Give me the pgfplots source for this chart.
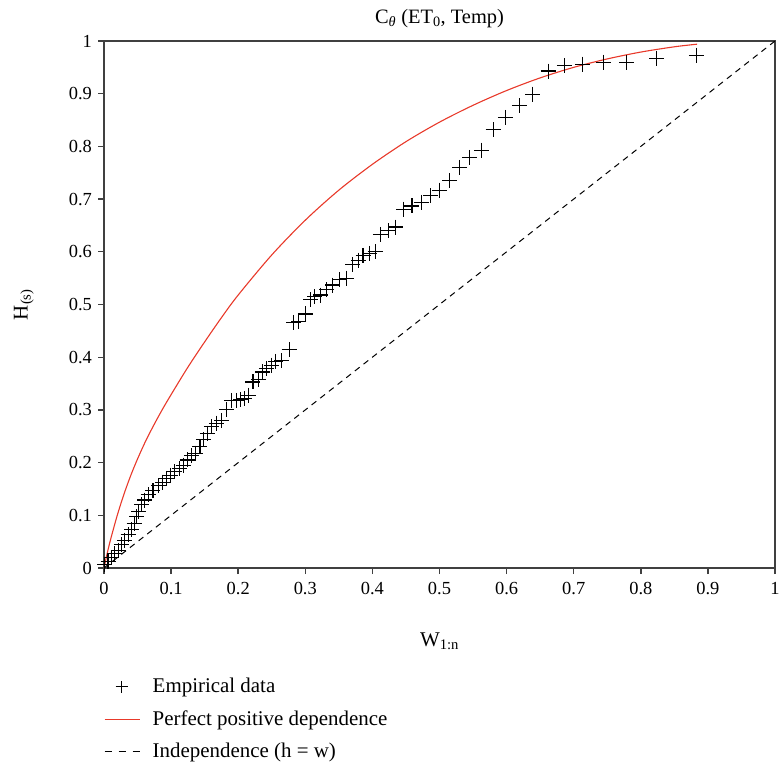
\documentclass[border=0pt]{standalone}
\usepackage{fontspec}
\setmainfont{Liberation Serif}
\usepackage{pgfplots}
\pgfplotsset{compat=1.18}
\definecolor{axgray}{HTML}{404040}
\definecolor{myred}{HTML}{E8392A}
\begin{document}
\fontsize{18}{22}\selectfont
\begin{tikzpicture}
\begin{axis}[
  anchor=origin, at={(0,0)},
  width=671bp, height=527bp, scale only axis,
  xmin=0, xmax=1, ymin=0, ymax=1,
  axis line style={axgray, line width=1.4bp},
  every tick/.style={axgray, line width=1.4bp},
  tick align=outside, major tick length=6bp,
  xtick pos=bottom, ytick pos=left,
  xtick={0,0.1,...,1}, ytick={0,0.1,...,1},
  xticklabels={0,0.1,0.2,0.3,0.4,0.5,0.6,0.7,0.8,0.9,1},
  yticklabels={0,0.1,0.2,0.3,0.4,0.5,0.6,0.7,0.8,0.9,1},
  ticklabel style={font=\fontsize{18.5}{22}\selectfont},
  xticklabel style={yshift=-2bp},
  title={C\textsubscript{\itshape θ} (ET\textsubscript{0}, Temp)},
  title style={font=\fontsize{20.5}{24}\selectfont, at={(0.5,1)}, anchor=south, yshift=1bp},
  xlabel={W\textsubscript{1:n}},
  xlabel style={font=\fontsize{21}{24}\selectfont, at={(0.5,0)}, anchor=north, yshift=-59bp},
  ylabel={H\textsubscript{(s)}},
  ylabel style={font=\fontsize{21}{24}\selectfont, at={(0,0.5)}, anchor=south, yshift=64bp},
  legend style={draw=none, fill=none, at={(0.0,-0.205)}, anchor=north west,
    font=\fontsize{21}{24}\selectfont, row sep=11bp, legend cell align=left,
    inner sep=0pt},
]
\addplot[only marks, mark=+, mark size=7.5bp, line width=1.1bp, black,
  legend image code/.code={\draw[mark=+, mark size=6bp, line width=1bp, black] plot coordinates {(17bp,0bp)}; \path[draw=none] (0bp,0bp) -- (46bp,0bp);}]
coordinates {
(0.001,0.006)(0.006,0.012)(0.011,0.020)(0.016,0.027)(0.021,0.034)(0.026,0.044)
(0.031,0.053)(0.036,0.063)(0.041,0.073)(0.045,0.085)(0.049,0.097)(0.052,0.107)
(0.056,0.120)(0.061,0.129)(0.066,0.139)(0.073,0.147)(0.081,0.156)(0.087,0.163)
(0.093,0.170)(0.099,0.176)(0.105,0.183)(0.112,0.189)(0.118,0.195)(0.124,0.205)
(0.131,0.213)(0.136,0.218)(0.143,0.230)(0.148,0.244)(0.154,0.256)(0.160,0.268)
(0.168,0.275)(0.175,0.280)(0.183,0.301)(0.190,0.318)(0.198,0.318)(0.204,0.320)
(0.210,0.322)(0.216,0.328)(0.222,0.353)(0.230,0.358)(0.236,0.372)(0.242,0.379)
(0.250,0.385)(0.256,0.392)(0.265,0.393)(0.276,0.414)(0.283,0.466)(0.290,0.468)
(0.300,0.482)(0.308,0.509)(0.314,0.515)(0.323,0.518)(0.332,0.528)(0.341,0.537)
(0.351,0.547)(0.362,0.550)(0.371,0.576)(0.379,0.584)(0.386,0.593)(0.396,0.597)
(0.404,0.600)(0.412,0.633)(0.424,0.640)(0.435,0.647)(0.447,0.681)(0.459,0.687)
(0.473,0.694)(0.487,0.706)(0.500,0.717)(0.515,0.735)(0.530,0.760)(0.545,0.779)
(0.563,0.793)(0.580,0.832)(0.598,0.855)(0.619,0.877)(0.639,0.899)(0.662,0.943)
(0.686,0.953)(0.713,0.956)(0.744,0.960)(0.779,0.960)(0.824,0.967)(0.883,0.973)
};
\addlegendentry{Empirical data}
\addplot[myred, line width=1.1bp, smooth,
  legend image code/.code={\draw[myred, line width=1.1bp] (0bp,0bp) -- (35bp,0bp); \path[draw=none] (0bp,0bp) -- (46bp,0bp);}]
coordinates {
(0,0)(0.005,0.029)(0.01,0.055)(0.02,0.101)(0.03,0.141)(0.04,0.176)(0.05,0.207)
(0.0625,0.242)(0.075,0.273)(0.0875,0.302)(0.1,0.329)(0.125,0.381)(0.15,0.429)
(0.175,0.475)(0.2,0.518)(0.25,0.594)(0.3,0.660)(0.35,0.717)(0.4,0.766)
(0.45,0.809)(0.5,0.846)(0.55,0.878)(0.6,0.906)(0.65,0.930)(0.7,0.950)
(0.75,0.966)(0.8,0.979)(0.85,0.989)(0.884,0.994)
};
\addlegendentry{Perfect positive dependence}
\addplot[black, line width=1bp, dash pattern=on 6bp off 5bp,
  legend image code/.code={\draw[black, line width=1bp, dash pattern=on 7bp off 7bp] (0bp,0bp) -- (35bp,0bp); \path[draw=none] (0bp,0bp) -- (46bp,0bp);}]
coordinates {(0,0)(1,1)};
\addlegendentry{Independence (h = w)}
\end{axis}
\pgfresetboundingbox
\path[use as bounding box] (-104bp,-199bp) rectangle (680bp,568bp);
\end{tikzpicture}
\end{document}
